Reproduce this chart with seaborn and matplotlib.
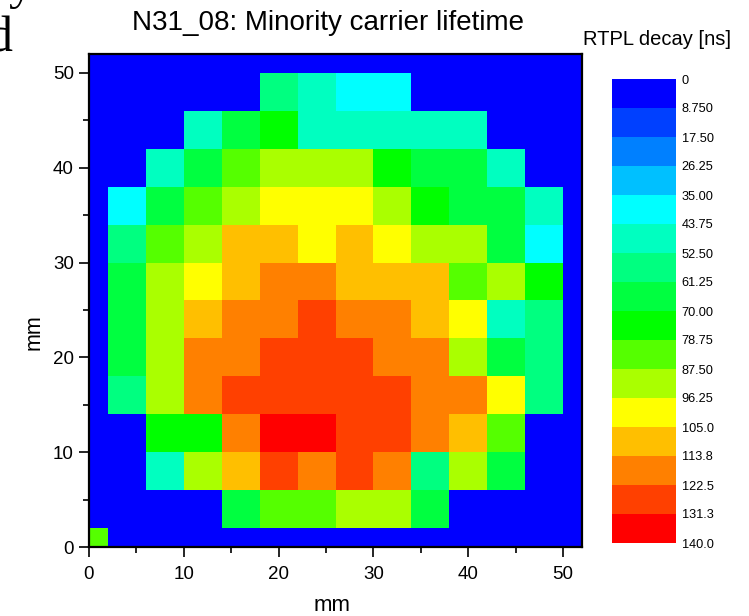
import numpy as np
import pandas as pd
import seaborn as sns
import matplotlib
matplotlib.use("Agg")
import matplotlib.pyplot as plt
from matplotlib.colors import ListedColormap, BoundaryNorm

# Measurement grid: 4 mm pitch in x and y
x_mm = [0, 4, 8, 12, 16, 20, 24, 28, 32, 36, 40, 44, 48, 52]
y_mm = [0, 4, 8, 12, 16, 20, 24, 28, 32, 36, 40, 44, 48, 52]

# RTPL decay time [ns], one list per row, from y = 0 mm (bottom) upwards
row_y00 = [83, 0, 0, 0, 0, 0, 0, 0, 0, 0, 0, 0, 0, 0]
row_y04 = [0, 0, 0, 0, 66, 83, 83, 92, 92, 66, 0, 0, 0, 0]
row_y08 = [0, 0, 48, 92, 109, 127, 118, 127, 118, 57, 92, 66, 0, 0]
row_y12 = [0, 0, 74, 74, 118, 136, 136, 127, 127, 118, 109, 83, 0, 0]
row_y16 = [0, 57, 92, 118, 127, 127, 127, 127, 127, 118, 118, 101, 57, 0]
row_y20 = [0, 66, 92, 118, 118, 127, 127, 127, 118, 118, 92, 66, 57, 0]
row_y24 = [0, 66, 92, 109, 118, 118, 127, 118, 118, 109, 101, 48, 57, 0]
row_y28 = [0, 66, 92, 101, 109, 118, 118, 109, 109, 109, 83, 92, 74, 0]
row_y32 = [0, 57, 83, 92, 109, 109, 101, 109, 101, 92, 92, 66, 39, 0]
row_y36 = [0, 39, 66, 83, 92, 101, 101, 101, 92, 74, 66, 66, 48, 0]
row_y40 = [0, 0, 48, 66, 83, 92, 92, 92, 74, 66, 66, 48, 0, 0]
row_y44 = [0, 0, 0, 48, 66, 74, 48, 48, 48, 48, 48, 0, 0, 0]
row_y48 = [0, 0, 0, 0, 0, 57, 48, 39, 39, 0, 0, 0, 0, 0]
row_y52 = [0, 0, 0, 0, 0, 0, 0, 0, 0, 0, 0, 0, 0, 0]

rows = [row_y00, row_y04, row_y08, row_y12, row_y16, row_y20, row_y24,
        row_y28, row_y32, row_y36, row_y40, row_y44, row_y48, row_y52]

# Colour scale: 16 equal bands from 0 to 140 ns
level_bounds = [0, 8.75, 17.5, 26.25, 35.0, 43.75, 52.5, 61.25, 70.0,
                78.75, 87.5, 96.25, 105.0, 113.75, 122.5, 131.25, 140.0]
level_labels = ["0", "8.750", "17.50", "26.25", "35.00", "43.75", "52.50",
                "61.25", "70.00", "78.75", "87.50", "96.25", "105.0",
                "113.8", "122.5", "131.3", "140.0"]
level_colors = ["#0000FF", "#0040FF", "#0080FF", "#00C0FF", "#00FFFF",
                "#00FFC0", "#00FF80", "#00FF40", "#00FF00", "#55FF00",
                "#AAFF00", "#FFFF00", "#FFBF00", "#FF8000", "#FF4000",
                "#FF0000"]

major_ticks = [0, 10, 20, 30, 40, 50]
minor_ticks = [5, 15, 25, 35, 45]

plt.rcParams["font.family"] = ["Liberation Sans", "DejaVu Sans"]

df = pd.DataFrame(rows, index=y_mm, columns=x_mm)
cmap = ListedColormap(level_colors)
norm = BoundaryNorm(level_bounds, cmap.N)

fig = plt.figure(figsize=(7.49, 6.16), dpi=100)
ax = fig.add_axes([89 / 749, 1 - 547 / 616, 493 / 749, 493 / 616])
cax = fig.add_axes([612 / 749, 1 - 543 / 616, 64 / 749, 464 / 616])

sns.heatmap(df, cmap=cmap, norm=norm, ax=ax, cbar_ax=cax,
            xticklabels=False, yticklabels=False)

# heatmap cell j spans [j, j+1]; convert mm -> cell coordinate
pitch = x_mm[1] - x_mm[0]


def to_cell(v):
    return (v + pitch / 2) / pitch


ax.set_xlim(to_cell(0), to_cell(52))
ax.set_ylim(to_cell(0), to_cell(52))
ax.set_xticks([to_cell(t) for t in major_ticks])
ax.set_xticklabels([str(t) for t in major_ticks])
ax.set_yticks([to_cell(t) for t in major_ticks])
ax.set_yticklabels([str(t) for t in major_ticks], rotation=0)
ax.set_xticks([to_cell(t) for t in minor_ticks], minor=True)
ax.set_yticks([to_cell(t) for t in minor_ticks], minor=True)
ax.set_xlabel("")
ax.set_ylabel("")

for s in ax.spines.values():
    s.set_visible(True)
    s.set_color("black")
    s.set_linewidth(1.6)
ax.tick_params(which="major", direction="out", length=7.5, width=1.2,
               labelsize=13.5, pad=3.5, colors="black")
ax.tick_params(which="minor", direction="out", length=4, width=1.2,
               colors="black")
ax.tick_params(axis="x", which="major", pad=6)

# colour bar: 0 on top, labels at band boundaries
cb = ax.collections[0].colorbar
cb.set_ticks(level_bounds)
cb.set_ticklabels(level_labels)
cb.outline.set_visible(False)
cax.invert_yaxis()
cax.tick_params(length=0, labelsize=9.2, pad=4)

fig.text(328 / 749, 1 - 30 / 616, "N31_08: Minority carrier lifetime",
         ha="center", va="baseline", fontsize=20)
fig.text(657 / 749, 1 - 45 / 616, "RTPL decay [ns]",
         ha="center", va="baseline", fontsize=14.5)
fig.text(332 / 749, 1 - 611 / 616, "mm", ha="center", va="baseline",
         fontsize=16)
fig.text(34 / 749, 1 - 314 / 616, "mm", ha="right", va="center",
         rotation=90, rotation_mode="anchor", fontsize=15.5)

# fragments of the surrounding serif caption at the top-left edge
fig.text(12 / 749, 1 - 52 / 616, "d", ha="right", va="baseline",
         fontsize=36, family=["Liberation Serif", "DejaVu Serif"])
fig.text(33 / 749, 1 + 2 / 616, "y", ha="right", va="baseline",
         fontsize=36, family=["Liberation Serif", "DejaVu Serif"])

fig.savefig("out.png", dpi=100)
